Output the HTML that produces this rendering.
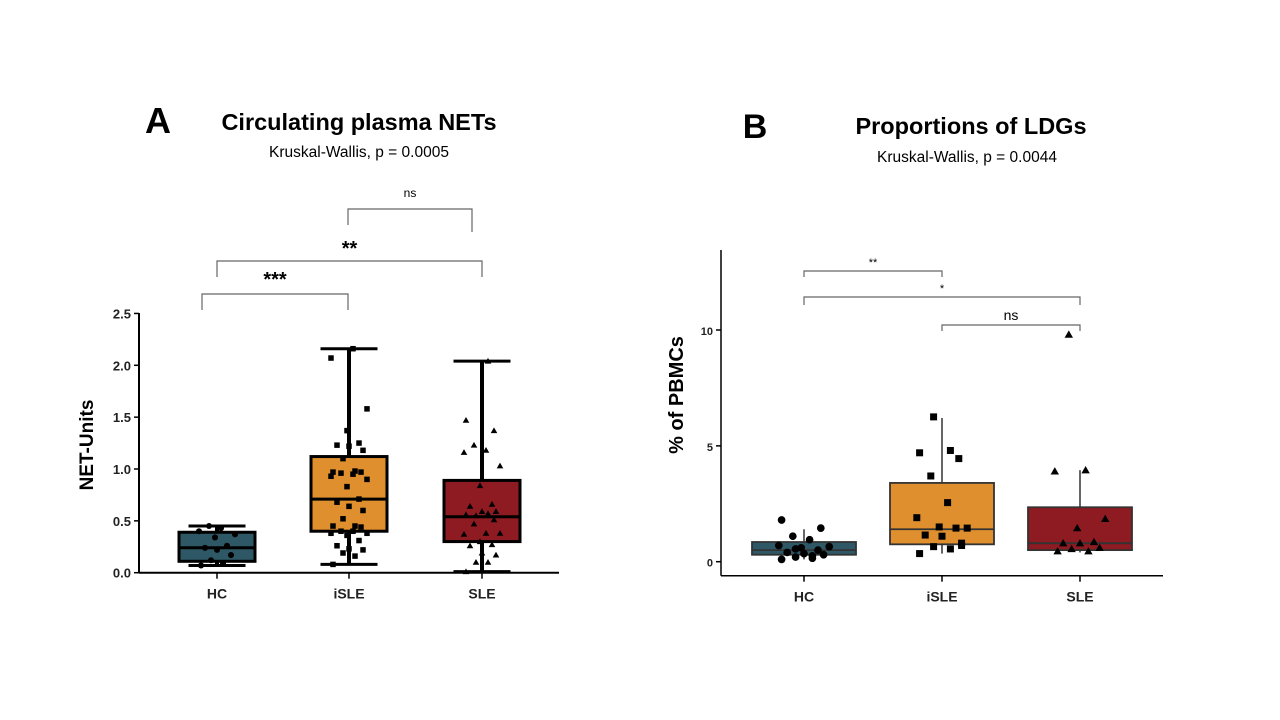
<!DOCTYPE html>
<html><head><meta charset="utf-8"><style>
body{margin:0;background:#fff;}
svg{display:block;font-family:"Liberation Sans",Arial,sans-serif;}
</style></head><body>
<svg id="s" width="1280" height="720" viewBox="0 0 1280 720">
<rect width="1280" height="720" fill="#fff"/>
<text x="158" y="133" font-size="36" font-weight="bold" text-anchor="middle">A</text>
<text x="359" y="130" font-size="23.5" font-weight="bold" text-anchor="middle">Circulating plasma NETs</text>
<text x="359" y="157" font-size="15.5" text-anchor="middle">Kruskal-Wallis,  p = 0.0005</text>
<text x="755" y="138" font-size="34" font-weight="bold" text-anchor="middle">B</text>
<text x="971" y="134" font-size="23.5" font-weight="bold" text-anchor="middle">Proportions of LDGs</text>
<text x="967" y="162" font-size="15.5" text-anchor="middle">Kruskal-Wallis,  p = 0.0044</text>
<g id="ga"></g>
<g id="gb"></g>
</svg>
<script>
const categories=["HC","iSLE","SLE"];
const colors=["#2f5866","#e08f2e","#8e1a22"];
// Panel A: [whiskerLow, q1, median, q3, whiskerHigh]
const aStats=[[0.07,0.11,0.24,0.39,0.45],[0.08,0.40,0.71,1.12,2.16],[0.01,0.30,0.54,0.89,2.04]];
const aHC=[0.07,0.09,0.12,0.17,0.22,0.24,0.26,0.34,0.37,0.40,0.43,0.45];
const aISLE=[0.08,0.16,0.19,0.22,0.23,0.26,0.31,0.36,0.38,0.38,0.40,0.40,0.44,0.45,0.45,0.52,0.60,0.64,0.68,0.71,0.83,0.90,0.93,0.95,0.96,0.97,0.97,0.98,1.10,1.18,1.22,1.23,1.25,1.37,1.58,2.07,2.16];
const aSLE=[0.01,0.10,0.10,0.17,0.19,0.26,0.27,0.30,0.38,0.37,0.38,0.47,0.51,0.56,0.57,0.55,0.59,0.59,0.64,0.66,0.84,1.03,1.16,1.18,1.23,1.37,1.47,2.04];
const aTicks=[0,0.5,1.0,1.5,2.0,2.5];
// Panel B
const bStats=[[0.1,0.3,0.5,0.85,1.4],[0.35,0.75,1.4,3.4,6.2],[0.4,0.5,0.8,2.35,3.95]];
const bHC=[0.1,0.15,0.2,0.3,0.35,0.4,0.5,0.6,0.65,0.7,0.95,1.1,1.45,1.8,0.25,0.55];
const bISLE=[0.35,0.55,0.65,0.8,1.1,1.15,1.45,1.5,1.45,1.9,2.55,3.7,4.45,4.7,4.8,6.25,0.7];
const bSLE=[0.45,0.45,0.55,0.6,0.8,0.8,0.85,1.45,1.85,3.9,3.95,9.8];
const bTicks=[0,5,10];
const NS="http://www.w3.org/2000/svg";
function el(p,t,a){const e=document.createElementNS(NS,t);for(const k in a)e.setAttribute(k,a[k]);p.appendChild(e);return e;}
function jit(i,w){const pat=[-0.8,0.3,-0.3,0.7,0,-0.6,0.5,-0.1,0.9,-0.9,0.2,-0.4,0.6];return pat[i%pat.length]*w;}
function panel(g,o){
  const ya=v=>o.y0-(v)*o.k;
  let ax=el(g,"line",{x1:o.xl,y1:o.yTop,x2:o.xl,y2:o.yAxis,stroke:"#000","stroke-width":o.aw});
  
  ax=el(g,"line",{x1:o.xl,y1:o.yAxis,x2:o.xr,y2:o.yAxis,stroke:"#000","stroke-width":o.aw});
  
  o.ticks.forEach(t=>{
    el(g,"line",{x1:o.xl-5,y1:ya(t),x2:o.xl,y2:ya(t),stroke:"#000","stroke-width":1.5});
    const tx=el(g,"text",{x:o.xl-8,y:ya(t)+5,"font-size":o.tfs,"font-weight":"bold","text-anchor":"end",fill:"#222"});
    tx.textContent=o.fmt(t);
    
  });
  const yl=el(g,"text",{x:0,y:0,"font-size":o.ylfs,"font-weight":"bold","text-anchor":"middle",transform:`translate(${o.ylx},${o.yly}) rotate(-90)`});
  yl.textContent=o.ylabel;
  
  categories.forEach((c,i)=>{
    const cx=o.cx[i],s=o.stats[i],hw=o.bw/2;
    el(g,"line",{x1:cx,y1:o.yAxis,x2:cx,y2:o.yAxis+6,stroke:"#000","stroke-width":1.5});
    const lb=el(g,"text",{x:cx,y:o.yAxis+26,"font-size":14,"font-weight":"bold","text-anchor":"middle",fill:"#222"});
    lb.textContent=c;
    
    const w=el(g,"line",{x1:cx,y1:ya(s[0]),x2:cx,y2:ya(s[4]),stroke:o.wc,"stroke-width":o.ww});
    
    if(o.caps){[s[0],s[4]].forEach(v=>el(g,"line",{x1:cx-hw*0.75,y1:ya(v),x2:cx+hw*0.75,y2:ya(v),stroke:"#000","stroke-width":3}));}
    const b=el(g,"rect",{x:cx-hw,y:ya(s[3]),width:o.bw,height:ya(s[1])-ya(s[3]),fill:colors[i],stroke:o.bs,"stroke-width":o.bsw});
    
    el(g,"line",{x1:cx-hw,y1:ya(s[2]),x2:cx+hw,y2:ya(s[2]),stroke:o.bs,"stroke-width":o.bsw});
    o.pts[i].forEach((v,j)=>{
      const px=cx+jit(j,o.jw),py=ya(v);let m;
      if(i===0)m=el(g,"circle",{cx:px,cy:py,r:o.ms*0.55,fill:"#000"});
      else if(i===1)m=el(g,"rect",{x:px-o.ms/2,y:py-o.ms/2,width:o.ms,height:o.ms,fill:"#000"});
      else m=el(g,"polygon",{points:`${px},${py-o.ms*0.6} ${px-o.ms*0.6},${py+o.ms*0.45} ${px+o.ms*0.6},${py+o.ms*0.45}`,fill:"#000"});
      
    });
  });
  o.br.forEach(b=>{
    const p=el(g,"path",{d:`M${b[0]},${b[3]} V${b[2]} H${b[1]} V${b[4]}`,fill:"none",stroke:"#666","stroke-width":1.2});
    
    const t=el(g,"text",{x:(b[0]+b[1])/2,y:b[2]-b[6],"font-size":b[7],"font-weight":b[8],"text-anchor":"middle"});
    t.textContent=b[5];
    
  });
}
panel(document.getElementById("ga"),{y0:572.7,k:103.7,xl:139,xr:559,yTop:313,yAxis:572.7,aw:2,ticks:aTicks,fmt:t=>t.toFixed(1),tfs:13,
  ylabel:"NET-Units",ylfs:19,ylx:93,yly:445,cx:[217,349,482],bw:76,stats:aStats,pts:[aHC,aISLE,aSLE],wc:"#000",ww:4,caps:true,bs:"#000",bsw:3,ms:5.5,jw:20,
  br:[[202,348,294,310,310,"***",8,20,"bold"],[217,482,261,277,277,"**",6,20,"bold"],[348,472,209,225,232,"ns",12,12,"normal"]]});
panel(document.getElementById("gb"),{y0:561.7,k:23.17,xl:721,xr:1163,yTop:250,yAxis:575.7,aw:1.5,ticks:bTicks,fmt:t=>String(t),tfs:11,
  ylabel:"% of PBMCs",ylfs:20,ylx:683,yly:395,cx:[804,942,1080],bw:104,stats:bStats,pts:[bHC,bISLE,bSLE],wc:"#333",ww:1.5,caps:false,bs:"#333",bsw:1.8,ms:7,jw:28,
  br:[[804,942,271,277,277,"**",5,11,"normal"],[804,1080,297,305,305,"*",5,11,"normal"],[942,1080,325,331,331,"ns",5,14,"normal"]]});
</script>
</body></html>
